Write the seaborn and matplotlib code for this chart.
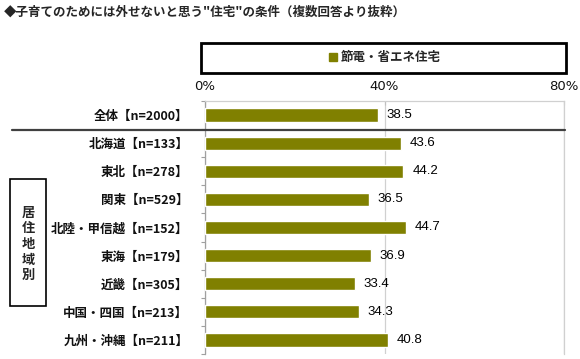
import numpy as np
import pandas as pd
import matplotlib
matplotlib.use('Agg')
import matplotlib.pyplot as plt
from matplotlib.patches import Rectangle, Patch
from matplotlib.lines import Line2D
import seaborn as sns

#Chart data
categories = ['全体【n=2000】', '北海道【n=133】', '東北【n=278】', '関東【n=529】',
              '北陸・甲信越【n=152】', '東海【n=179】', '近畿【n=305】',
              '中国・四国【n=213】', '九州・沖縄【n=211】']
values = [38.5, 43.6, 44.2, 36.5, 44.7, 36.9, 33.4, 34.3, 40.8]
series_name = '節電・省エネ住宅'
x_ticks = [0, 40, 80]
x_tick_labels = ['0%', '40%', '80%']
title = '◆子育てのためには外せないと思う"住宅"の条件（複数回答より抜粋）'
group_label = '居住地域別'

BAR = '#808000'

sns.set_theme(style='white')
plt.rcParams['font.family'] = ['Noto Sans CJK JP', 'DejaVu Sans']

df = pd.DataFrame({'cat': categories, 'val': values})

fig = plt.figure(figsize=(5.8, 3.59), dpi=100)
ax = fig.add_axes([205/580, 1-354/359, 359/580, 253/359])

sns.barplot(data=df, x='val', y='cat', orient='h', color=BAR, width=0.47,
            saturation=1, ax=ax, zorder=3)

#Value labels
for i, v in enumerate(values):
    ax.text(v + 2.0, i, f'{v:.1f}', va='center', ha='left', fontsize=9.5,
            color='black', family=['Liberation Sans'])

ax.set_xlim(0, 80)
ax.set_ylim(len(categories) - 0.5, -0.5)
ax.set_xlabel('')
ax.set_ylabel('')

#Axis ticks on top
ax.xaxis.tick_top()
ax.set_xticks(x_ticks)
ax.set_xticklabels(x_tick_labels, fontsize=9.5, family=['DejaVu Sans'])
ax.tick_params(axis='x', top=True, length=3, width=0.8, color='#c0c0c0',
               direction='in', pad=6, colors='#111111')
ax.grid(axis='x', color='#d0d0d0', lw=0.9, zorder=0)
ax.set_axisbelow(True)

ax.set_yticks(range(len(categories)))
ax.set_yticklabels(categories, fontsize=9, fontweight='bold')
ax.tick_params(axis='y', left=False, pad=6, colors='#111111')
ax.set_yticks(np.arange(-0.5, len(categories), 1), minor=True)
ax.tick_params(axis='y', which='minor', left=True, length=3, width=0.8,
               color='#a0a0a0', direction='out')

for s in ['top', 'right']:
    ax.spines[s].set_color('#d0d0d0')
    ax.spines[s].set_linewidth(0.9)
ax.spines['left'].set_color('#a0a0a0')
ax.spines['left'].set_linewidth(0.9)
ax.spines['bottom'].set_visible(False)

#Separator line under total
fig.add_artist(Line2D([12/580, 565/580], [1-129.5/359, 1-129.5/359],
                      color='#404040', lw=1.6, transform=fig.transFigure))

#Legend box
fig.add_artist(Rectangle((201/580, 1-73/359), 365/580, 30/359, fill=False,
                         edgecolor='black', lw=2, transform=fig.transFigure))
leg = fig.legend(handles=[Patch(color=BAR, label=series_name)], loc='center',
                 bbox_to_anchor=(385/580, 1-58/359), frameon=False,
                 handlelength=0.6, handleheight=0.6, handletextpad=0.3,
                 prop={'size': 9, 'weight': 'bold'})

#Group box
fig.add_artist(Rectangle((10/580, 1-306/359), 36/580, 127/359, fill=False,
                         edgecolor='black', lw=1.2, transform=fig.transFigure))
fig.text(28/580, 1-244/359, '\n'.join(group_label), ha='center', va='center',
         fontsize=9.5, fontweight='bold', linespacing=1.15,
         family=['Noto Sans CJK JP'])

#Title
fig.text(4/580, 1-12/359, title, ha='left', va='center', fontsize=9,
         fontweight='bold')

fig.savefig('out.png', dpi=100)
